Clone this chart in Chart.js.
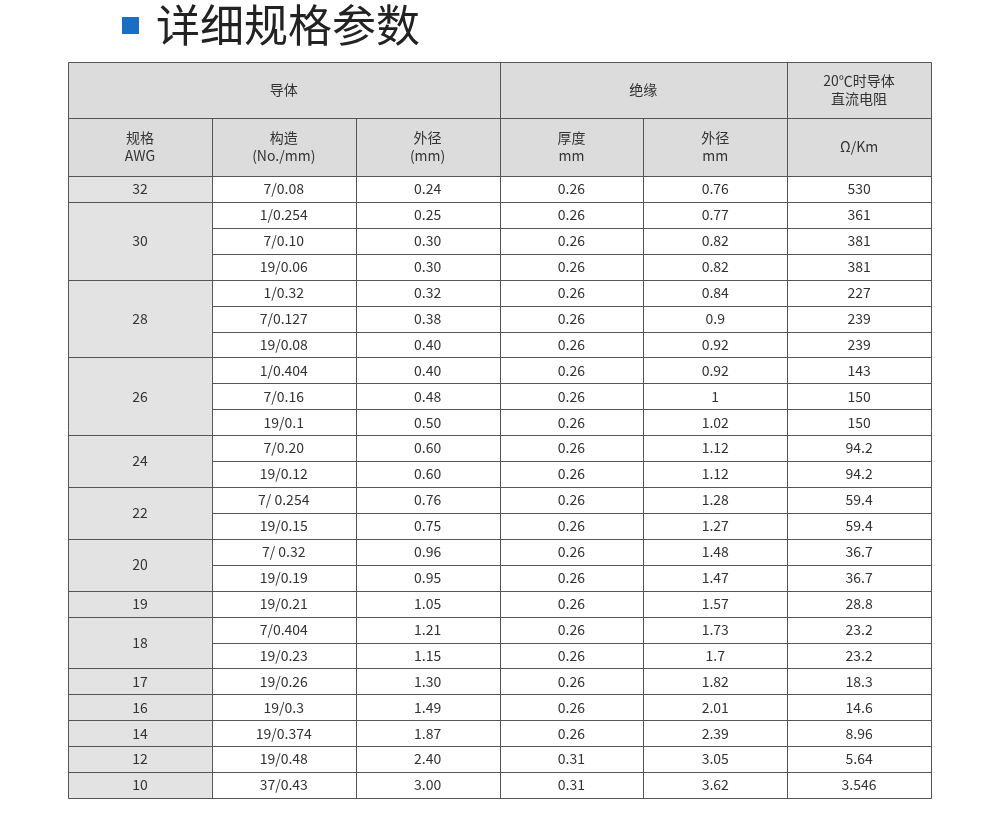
<!DOCTYPE html>
<html><head><meta charset="utf-8">
<script src="https://cdn.jsdelivr.net/npm/chart.js@4/dist/chart.umd.min.js"></script>
<style>html,body{margin:0;padding:0;background:#fff}#w{width:990px;height:820px;position:relative}</style>
</head><body><div id="w"><canvas id="c"></canvas></div>
<script>
const awg=["32","30","30","30","28","28","28","26","26","26","24","24","22","22","20","20","19","18","18","17","16","14","12","10"];
const construction=["7/0.08","1/0.254","7/0.10","19/0.06","1/0.32","7/0.127","19/0.08","1/0.404","7/0.16","19/0.1","7/0.20","19/0.12","7/ 0.254","19/0.15","7/ 0.32","19/0.19","19/0.21","7/0.404","19/0.23","19/0.26","19/0.3","19/0.374","19/0.48","37/0.43"];
const conductorOD=["0.24","0.25","0.30","0.30","0.32","0.38","0.40","0.40","0.48","0.50","0.60","0.60","0.76","0.75","0.96","0.95","1.05","1.21","1.15","1.30","1.49","1.87","2.40","3.00"];
const thickness=["0.26","0.26","0.26","0.26","0.26","0.26","0.26","0.26","0.26","0.26","0.26","0.26","0.26","0.26","0.26","0.26","0.26","0.26","0.26","0.26","0.26","0.26","0.31","0.31"];
const insulationOD=["0.76","0.77","0.82","0.82","0.84","0.9","0.92","0.92","1","1.02","1.12","1.12","1.28","1.27","1.48","1.47","1.57","1.73","1.7","1.82","2.01","2.39","3.05","3.62"];
const resistance=["530","361","381","381","227","239","239","143","150","150","94.2","94.2","59.4","59.4","36.7","36.7","28.8","23.2","23.2","18.3","14.6","8.96","5.64","3.546"];
const groupHeaders=[{t:["导体"],c0:0,c1:3},{t:["绝缘"],c0:3,c1:5},{t:["20℃时导体","直流电阻"],c0:5,c1:6}];
const subHeaders=[["规格","AWG"],["构造","(No./mm)"],["外径","(mm)"],["厚度","mm"],["外径","mm"],["Ω/Km"]];
const title="详细规格参数";
const H1=56,H2=58,ROWH=622/24,TOTAL=H1+H2+ROWH*24;
const cols=[construction,conductorOD,thickness,insulationOD,resistance];
const FONT='14px "Noto Sans CJK SC","Noto Sans",sans-serif';
const tablePlugin={id:'table',afterDraw(ch){
 const g=ch.ctx,x=ch.scales.x,y=ch.scales.y;
 const X=v=>x.getPixelForValue(v),Y=v=>y.getPixelForValue(v);
 g.save();
 g.fillStyle='#1a6fc4';g.fillRect(122,17,17,17);
 g.fillStyle='#222';g.font='44px "Noto Sans CJK SC",sans-serif';g.textBaseline='middle';g.textAlign='left';
 g.fillText(title,156,25);
 g.fillStyle='#dcdcdc';g.fillRect(X(0),Y(0),X(6)-X(0),Y(H1+H2)-Y(0));
 g.fillStyle='#e3e3e3';g.fillRect(X(0),Y(H1+H2),X(1)-X(0),Y(TOTAL)-Y(H1+H2));
 g.strokeStyle='#555';g.lineWidth=1;
 const line=(a,b,c,d)=>{g.beginPath();g.moveTo(Math.round(a)+.5,Math.round(b)+.5);g.lineTo(Math.round(c)+.5,Math.round(d)+.5);g.stroke();};
 g.font=FONT;g.fillStyle='#333';g.textAlign='center';
 const txt=(lines,cx,cy)=>{const n=lines.length;lines.forEach((s,i)=>g.fillText(s,cx,cy+(i-(n-1)/2)*18));};
 line(X(0),Y(0),X(6),Y(0));line(X(0),Y(TOTAL),X(6),Y(TOTAL));line(X(0),Y(0),X(0),Y(TOTAL));line(X(6),Y(0),X(6),Y(TOTAL));
 groupHeaders.forEach(h=>{txt(h.t,(X(h.c0)+X(h.c1))/2,Y(H1/2));if(h.c1<6)line(X(h.c1),Y(0),X(h.c1),Y(TOTAL));});
 line(X(0),Y(H1),X(6),Y(H1));line(X(0),Y(H1+H2),X(6),Y(H1+H2));
 subHeaders.forEach((s,i)=>{txt(s,(X(i)+X(i+1))/2,Y(H1+H2/2));if(i>0)line(X(i),Y(H1),X(i),Y(TOTAL));});
 let r=0;
 while(r<awg.length){let e=r;while(e+1<awg.length&&awg[e+1]===awg[r])e++;
  const t=Y(H1+H2+r*ROWH),b=Y(H1+H2+(e+1)*ROWH);
  txt([awg[r]],(X(0)+X(1))/2,(t+b)/2);if(e<awg.length-1)line(X(0),b,X(1),b);
  for(let k=r;k<=e;k++){const rt=Y(H1+H2+k*ROWH),rb=Y(H1+H2+(k+1)*ROWH);
   cols.forEach((c,ci)=>txt([c[k]],(X(ci+1)+X(ci+2))/2,(rt+rb)/2));
   if(k<awg.length-1)line(X(1),rb,X(6),rb);}
  r=e+1;}
 g.restore();}};
new Chart(document.getElementById('c'),{type:'bar',data:{labels:[],datasets:[]},
 options:{responsive:true,maintainAspectRatio:false,animation:false,events:[],
  layout:{padding:{left:68,right:59,top:62,bottom:22}},
  plugins:{legend:{display:false},tooltip:{enabled:false}},
  scales:{x:{type:'linear',offset:false,min:0,max:6,display:false},y:{type:'linear',offset:false,min:0,max:TOTAL,reverse:true,display:false}}},
 plugins:[tablePlugin]});
</script></body></html>
